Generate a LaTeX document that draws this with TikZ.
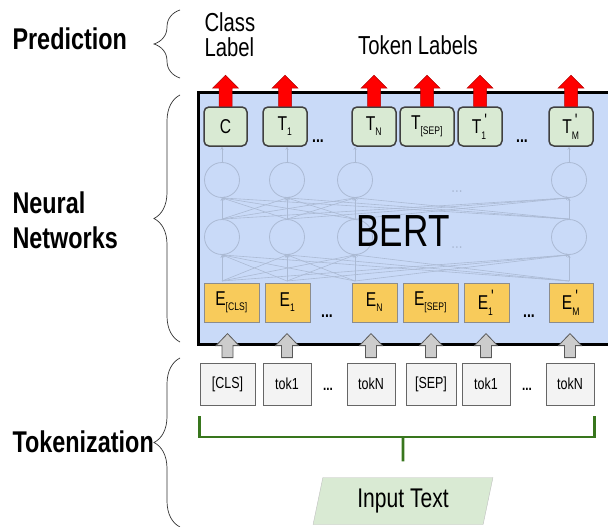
\documentclass[tikz,border=0pt]{standalone}
\usepackage{fontspec}
\setmainfont{Liberation Sans}[FakeStretch=0.78]
\usetikzlibrary{shapes.geometric,decorations.pathreplacing,arrows.meta}

\definecolor{bertblue}{HTML}{C9DAF8}
\definecolor{outgreen}{HTML}{D9EAD3}
\definecolor{embyellow}{HTML}{F8CB5B}
\definecolor{tokgray}{HTML}{F3F3F3}
\definecolor{faint}{HTML}{ABBAD4}
\definecolor{bracketgreen}{HTML}{38761D}

% letter with a small low index and an optional mark above it
\newcommand{\tsub}[3]{#1$_{\mbox{\fontsize{11}{11}\selectfont #2}}^{\mbox{\fontsize{18}{18}\selectfont #3}}$}

\begin{document}
\begin{tikzpicture}
      [x=1pt, y=-1pt,
       bertbox/.style={
           rectangle,
           draw=black, line width=3pt,
           fill=bertblue,
           inner sep=0pt
         },
       outbox/.style={
           rectangle, rounded corners=5pt,
           draw=black!75, line width=1.5pt,
           fill=outgreen,
           minimum height=39pt, inner sep=0pt,
           font=\fontsize{20}{20}\selectfont
         },
       embbox/.style={
           rectangle,
           draw=black!45, line width=1pt,
           fill=embyellow,
           minimum height=39pt, inner sep=0pt,
           font=\fontsize{20}{20}\selectfont
         },
       tokbox/.style={
           rectangle,
           draw=black!60, line width=0.8pt,
           fill=tokgray,
           minimum height=42pt, inner sep=0pt,
           font=\fontsize{16}{16}\selectfont
         },
       inputbox/.style={
           trapezium, trapezium left angle=77, trapezium right angle=103,
           trapezium stretches=true,
           draw=black!25, fill=outgreen,
           minimum width=180pt, minimum height=47pt, inner sep=0pt,
           font=\fontsize{27}{27}\selectfont
         },
       unit/.style={circle, draw=faint, line width=0.8pt, minimum size=35pt, inner sep=0pt},
       faintline/.style={draw=faint, line width=0.6pt, -{Stealth[length=3pt,width=3pt]}},
       redarrow/.style={fill=red, draw=red!70!black, line width=0.5pt},
       grayarrow/.style={fill=black!20, draw=black!65, line width=0.8pt},
       bracket/.style={draw=bracketgreen, line width=2.8pt},
       sidebrace/.style={decorate, decoration={brace, amplitude=26pt}, draw=black!80, line width=0.7pt},
       sidelabel/.style={anchor=west, align=left, font=\bfseries\fontsize{30}{35}\selectfont},
       dots/.style={font=\bfseries\fontsize{18}{18}\selectfont, inner sep=0pt}
       ]
    \useasboundingbox (0,0) rectangle (608,527);

    % left column
    \node [sidelabel] (pred) at (9,39) {Prediction};
    \node [sidelabel] (neural) at (9,220) {Neural\\Networks};
    \node [sidelabel] (tokz) at (9,442) {Tokenization};
    \draw [sidebrace] (180,78) -- (180,10);
    \draw [sidebrace] (180,342) -- (180,95);
    \draw [sidebrace] (180,527) -- (180,358);

    \node [anchor=west, align=left, font=\fontsize{26}{25}\selectfont] (classlbl) at (201,35) {Class\\Label};
    \node [font=\fontsize{26}{26}\selectfont] (toklbl) at (418,45) {Token Labels};

    % the model
    \node [bertbox, anchor=north west, minimum width=425pt, minimum height=252pt] (bert) at (197,91) {};

    \foreach \x [count=\i] in {222,287,355,569} {
      \node [unit] (u\i) at (\x,180) {};
      \node [unit] (l\i) at (\x,237) {};
      \coordinate (in\i) at (\x,281);
    }
    \foreach \i in {1,...,4}
      \foreach \j in {1,...,4} {
        \draw [faintline] (l\i.north) -- (u\j.south);
        \draw [faintline] (in\i) -- (l\j.south);
      }
    \node [dots, text=faint, font=\fontsize{17}{17}\selectfont] (hdots1) at (457,192) {...};
    \node [dots, text=faint, font=\fontsize{17}{17}\selectfont] (hdots2) at (457,248) {...};

    \node [font=\fontsize{45}{45}\selectfont] (bertlabel) at (403,231) {BERT};

    \node [outbox, minimum width=43pt] (c) at (225.5,126.5) {C};
    \node [outbox, minimum width=44pt] (t1) at (285,126.5) {\tsub{T}{1}{}};
    \node [outbox, minimum width=44pt] (tn) at (374,126.5) {\tsub{T}{N}{}};
    \node [outbox, minimum width=54pt] (tsep) at (427,126.5) {\tsub{T}{[SEP]}{}};
    \node [outbox, minimum width=44pt] (t1p) at (480,126.5) {\tsub{T}{1}{\,\textquotesingle}};
    \node [outbox, minimum width=44pt] (tmp) at (571,126.5) {\tsub{T}{M}{\,\textquotesingle}};
    \node [dots] (tdots1) at (318,141) {...};
    \node [dots] (tdots2) at (522,141) {...};

    \foreach \i/\n in {1/c,2/t1,3/tn,4/tmp}
      \draw [faintline] (u\i.north) -- (u\i.north |- \n.south);

    \node [embbox, minimum width=55pt] (ecls) at (231.5,302.5) {\tsub{E}{[CLS]}{}};
    \node [embbox, minimum width=45pt] (e1) at (287.5,302.5) {\tsub{E}{1}{}};
    \node [embbox, minimum width=45pt] (en) at (374.5,302.5) {\tsub{E}{N}{}};
    \node [embbox, minimum width=55pt] (esep) at (430.5,302.5) {\tsub{E}{[SEP]}{}};
    \node [embbox, minimum width=45pt] (e1p) at (486.5,302.5) {\tsub{E}{1}{\,\textquotesingle}};
    \node [embbox, minimum width=44pt] (emp) at (571,302.5) {\tsub{E}{M}{\,\textquotesingle}};
    \node [dots] (edots1) at (327,316) {...};
    \node [dots] (edots2) at (529,316) {...};

    % outputs
    \foreach \n in {c,t1,tn,tsep,t1p,tmp}
      \draw [redarrow] (\n.north) ++(-6.5,0) -- ++(0,-18) -- ++(-6.5,0) -- ++(13,-13)
        -- ++(13,13) -- ++(-6.5,0) -- ++(0,18) -- cycle;

    % tokens
    \node [tokbox, minimum width=55pt] (cls) at (227.5,384) {[CLS]};
    \node [tokbox, minimum width=48pt] (tok1) at (287,384) {tok1};
    \node [tokbox, minimum width=48pt] (tokn) at (371,384) {tokN};
    \node [tokbox, minimum width=50pt] (sep) at (431,384) {[SEP]};
    \node [tokbox, minimum width=48pt] (tok1b) at (486,384) {tok1};
    \node [tokbox, minimum width=48pt] (toknb) at (570,384) {tokN};
    \node [dots, font=\bfseries\fontsize{15}{15}\selectfont] (kdots1) at (328,389) {...};
    \node [dots, font=\bfseries\fontsize{15}{15}\selectfont] (kdots2) at (527,389) {...};

    \foreach \n in {cls,tok1,tokn,sep,tok1b,toknb}
      \draw [grayarrow] (\n.north) ++(-5.5,-5) -- ++(0,-12) -- ++(-6,0) -- ++(11.5,-12)
        -- ++(11.5,12) -- ++(-6,0) -- ++(0,12) -- cycle;

    \node [inputbox] (input) at (403,501) {Input Text};

    \coordinate (bl) at ([yshift=-11pt]cls.south west);
    \coordinate (br) at ([yshift=-11pt]toknb.south east);
    \coordinate (bracketmid) at (403,437);
    \coordinate (stemend) at ([yshift=16pt]input.north);
    \draw [bracket] (bl) |- (bracketmid) -| (br);
    \draw [bracket] (bracketmid) -- (stemend);

  \end{tikzpicture}
\end{document}
